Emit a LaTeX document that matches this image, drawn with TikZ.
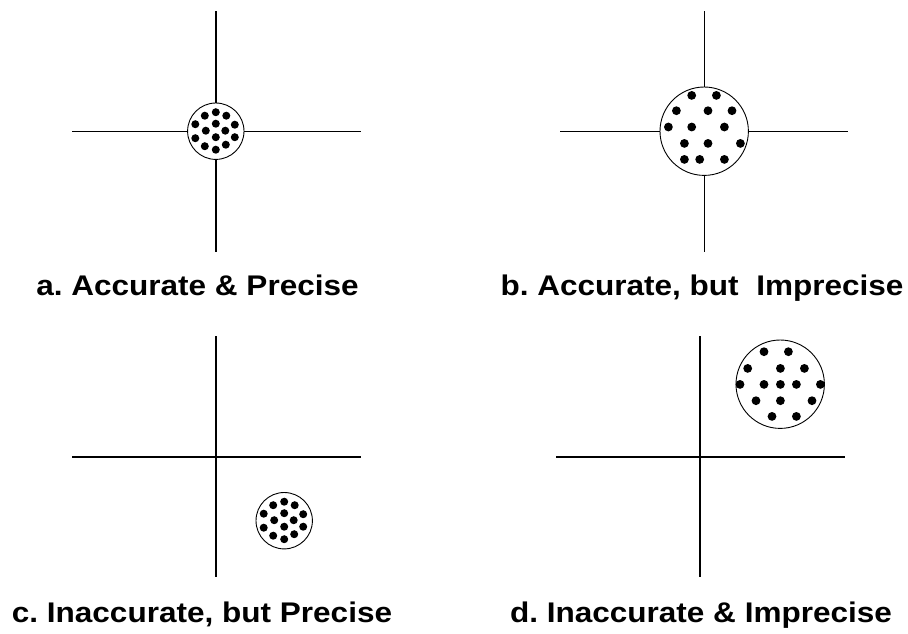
\documentclass[tikz,border=0pt]{standalone}
\usepackage{fontspec}
\usepackage{graphicx}
\setmainfont{Liberation Sans}
\frenchspacing
\tikzset{
  axis/.style={line width=1.3pt, black},
  target/.style={circle, draw, fill=white, line width=0.9pt, inner sep=0pt},
  small/.style={target, minimum size=56.4pt},
  large/.style={target, minimum size=88.4pt},
  caption/.style={anchor=base, inner sep=0pt, font=\bfseries\fontsize{28.4}{33}\selectfont}
}
\newcommand{\wide}[1]{\scalebox{1.11}[1]{#1}}
\begin{document}
\begin{tikzpicture}[x=1pt, y=-1pt]
  \useasboundingbox (0,0) rectangle (908,633);

  % axes of the four panels
  \coordinate (aL) at (72,131.5);  \coordinate (aR) at (361,131.5);
  \coordinate (aT) at (216,11);    \coordinate (aB) at (216,251.5);
  \coordinate (bL) at (560,131.5); \coordinate (bR) at (848,131.5);
  \coordinate (bT) at (704.3,11);  \coordinate (bB) at (704.3,251.5);
  \coordinate (cL) at (72,457);    \coordinate (cR) at (361,457);
  \coordinate (cT) at (216,336);   \coordinate (cB) at (216,577);
  \coordinate (dL) at (556,457);   \coordinate (dR) at (845,457);
  \coordinate (dT) at (700,336);   \coordinate (dB) at (700,577);
  \foreach \p in {a,b,c,d} {
    \draw[axis] (\p L) -- (\p R);
    \draw[axis] (\p T) -- (\p B);
  }

  % targets
  \node[small] (ta) at (215.8,131.2) {};
  \node[large] (tb) at (704.2,131.2) {};
  \node[small] (tc) at (284.2,520.7) {};
  \node[large] (td) at (780.2,384.2) {};

  % tight clusters of hits
  \foreach \t in {ta,tc} {
    \foreach \dx/\dy in {-11/-15.5, 0/-19, 10.5/-15.5,
                         -20.5/-7, 0/-7.5, 19/-6.5,
                         -10/-0.5, 9.5/-0.5,
                         -20.5/7, 0/6, 19/6,
                         -11/15, 10/13.5, 0/18.5}
      \fill (\t.center) ++(\dx,\dy) circle[radius=4pt];
  }

  % scattered hits
  \foreach \dx/\dy in {-12.5/-35.8, 12.2/-35.8,
                       -27.8/-20.5, 3.8/-20.5, 27.8/-20.5,
                       -35.8/-4.2, -12.5/-4.2, 20.2/-4.2,
                       -19.8/12.2, 3.8/12.2, 36.2/12.2,
                       -19.8/28.2, -4.5/28.2, 20.2/28.2}
    \fill (tb.center) ++(\dx,\dy) circle[radius=4.4pt];
  \foreach \dx/\dy in {-16.2/-32.5, 8.2/-32.5,
                       -32.5/-15.8, 0.2/-15.8, 24.2/-15.8,
                       -40.2/0.2, -16.2/0.2, 0.2/0.2, 16.2/0.2, 40.2/0.2,
                       -24.2/16.5, 0.2/16.5, 31.8/16.5,
                       -8.2/32.2, 16.2/32.2}
    \fill (td.center) ++(\dx,\dy) circle[radius=4.4pt];

  % captions
  \node[caption] (la) at (197.5,295.5) {\wide{a. Accurate \& Precise}};
  \node[caption] (lb) at (702,295.5) {\wide{b. Accurate, but\ \ Imprecise}};
  \node[caption] (lc) at (202,622.7) {\wide{c. Inaccurate, but Precise}};
  \node[caption] (ld) at (701,622.7) {\wide{d. Inaccurate \& Imprecise}};
\end{tikzpicture}
\end{document}
